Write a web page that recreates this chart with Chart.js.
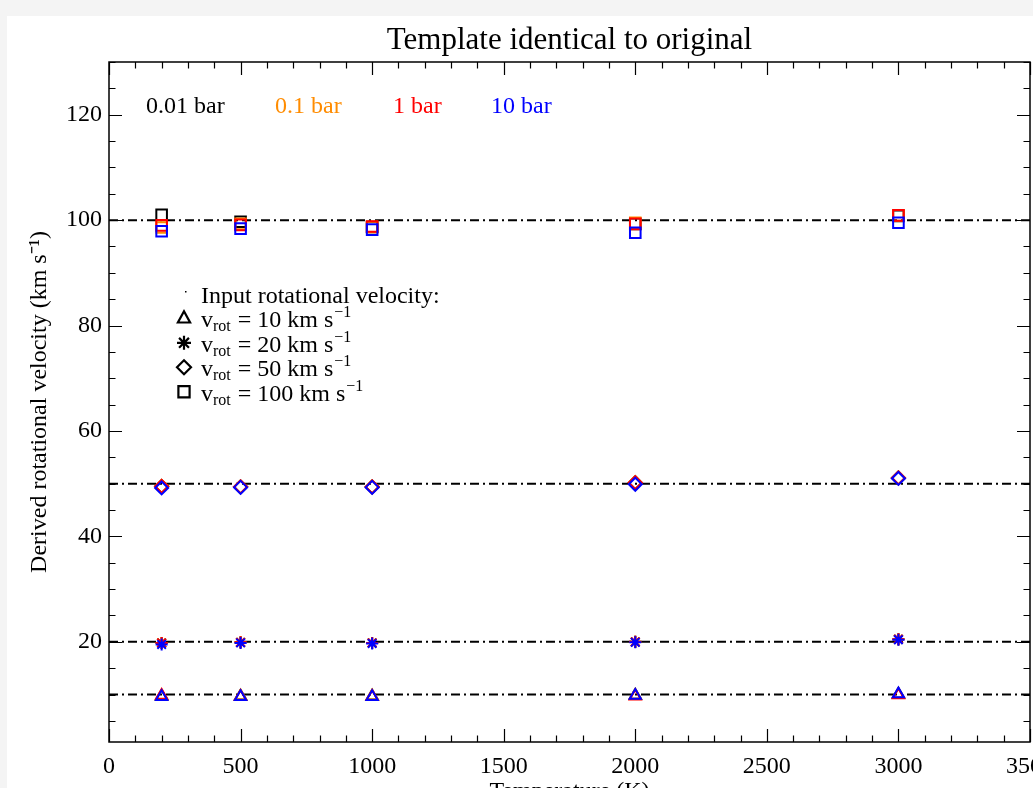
<!DOCTYPE html>
<html>
<head>
<meta charset="utf-8">
<title>Template identical to original</title>
<script src="https://cdn.jsdelivr.net/npm/chart.js@4.4.1/dist/chart.umd.min.js"></script>
<style>
  html, body { margin: 0; padding: 0; overflow: hidden; background: #f4f4f4; }
  #panel { position: absolute; left: 7px; top: 16px; background: #fff; }
  canvas { display: block; }
</style>
</head>
<body>
<div id="panel"><canvas id="vrotChart" width="1063" height="800"></canvas></div>
<script>
// temperatures of the model grid (K)
const temperatures = [200, 500, 1000, 2000, 3000];
// input rotational velocities (km/s)
const inputVelocities = [10, 20, 50, 100];
const pressureLabels = ['0.01 bar', '0.1 bar', '1 bar', '10 bar'];
const pressureColors = ['#000000', '#ff8c00', '#ff0000', '#0000ff'];
const xRange = [0, 3500];
const yRange = [1, 130];

// derived velocities, one row per pressure (0.01, 0.1, 1, 10 bar)
const derived10 = [
    [9.7, 9.7, 9.7, 9.8, 10.0],
    [9.7, 9.7, 9.7, 9.8, 10.0],
    [9.8, 9.6, 9.6, 9.7, 9.9],
    [9.6, 9.6, 9.6, 9.8, 10.1],
];
const derived20 = [
    [19.8, 19.9, 19.8, 20.0, 20.5],
    [19.8, 19.9, 19.8, 20.0, 20.5],
    [19.8, 19.9, 19.8, 20.0, 20.5],
    [19.5, 19.8, 19.7, 19.9, 20.4],
];
const derived50 = [
    [49.5, 49.4, 49.4, 50.2, 51.1],
    [49.5, 49.4, 49.4, 50.2, 51.1],
    [49.5, 49.4, 49.4, 50.2, 51.1],
    [49.2, 49.3, 49.3, 49.9, 51.0],
];
const derived100 = [
    [101.0, 99.7, 98.7, 99.3, 100.8],
    [98.6, 99.3, 98.7, 99.5, 100.9],
    [99.0, 99.1, 98.8, 99.3, 100.9],
    [97.9, 98.4, 98.2, 97.6, 99.5],
];

const derivedByVelocity = [derived10, derived20, derived50, derived100];
const markerStyles = ['triangle', 'star', 'rectRot', 'rect'];
const markerRadius = [6.5, 6, 6.5, 7.5];
const serif = '"Liberation Serif", "Times New Roman", serif';

const datasets = [];

// dash-dot reference lines at the input velocities
inputVelocities.forEach(v => {
    datasets.push({
        type: 'line',
        data: xRange.map(x => ({ x: x, y: v })),
        borderColor: '#000',
        borderWidth: 2,
        borderDash: [9, 4, 2, 4],
        pointRadius: 0,
        order: 10,
    });
});

// one scatter set per pressure and input velocity, blue drawn on top
derivedByVelocity.forEach((rows, vi) => {
    rows.forEach((vals, pi) => {
        datasets.push({
            type: 'scatter',
            label: pressureLabels[pi] + ' / ' + inputVelocities[vi],
            data: temperatures.map((t, i) => ({ x: t, y: vals[i] })),
            pointStyle: markerStyles[vi],
            pointRadius: markerRadius[vi],
            pointBorderWidth: 2,
            borderColor: pressureColors[pi],
            backgroundColor: 'rgba(0,0,0,0)',
            showLine: false,
            order: 5 - pi,
        });
    });
});

// inward tick marks on all four sides plus the frame
const frameTicks = {
    id: 'frameTicks',
    afterDraw(chart) {
        const { ctx, chartArea: a, scales: { x, y } } = chart;
        ctx.save();
        ctx.strokeStyle = '#000';
        ctx.lineWidth = 1.2;
        ctx.beginPath();
        x.ticks.forEach(t => {
            const px = Math.round(x.getPixelForValue(t.value)) + 0.5;
            const len = t.value % 500 === 0 ? 13 : 6.5;
            ctx.moveTo(px, a.bottom); ctx.lineTo(px, a.bottom - len);
            ctx.moveTo(px, a.top); ctx.lineTo(px, a.top + len);
        });
        y.ticks.forEach(t => {
            if (t.value % 5 !== 0) return;
            const py = Math.round(y.getPixelForValue(t.value)) + 0.5;
            const len = t.value % 20 === 0 ? 13 : 6.5;
            ctx.moveTo(a.left, py); ctx.lineTo(a.left + len, py);
            ctx.moveTo(a.right, py); ctx.lineTo(a.right - len, py);
        });
        ctx.stroke();
        ctx.lineWidth = 1.5;
        ctx.strokeRect(a.left, a.top, a.right - a.left, a.bottom - a.top);
        ctx.restore();
    }
};

function drawMarker(ctx, style, cx, cy, r) {
    ctx.beginPath();
    if (style === 'triangle') {
        ctx.moveTo(cx, cy - r);
        ctx.lineTo(cx + r * 0.87, cy + r * 0.6);
        ctx.lineTo(cx - r * 0.87, cy + r * 0.6);
        ctx.closePath();
    } else if (style === 'star') {
        for (let k = 0; k < 4; k++) {
            const ang = k * Math.PI / 4;
            ctx.moveTo(cx - Math.cos(ang) * r, cy - Math.sin(ang) * r);
            ctx.lineTo(cx + Math.cos(ang) * r, cy + Math.sin(ang) * r);
        }
    } else if (style === 'rectRot') {
        ctx.moveTo(cx, cy - r); ctx.lineTo(cx + r, cy);
        ctx.lineTo(cx, cy + r); ctx.lineTo(cx - r, cy);
        ctx.closePath();
    } else {
        ctx.rect(cx - r * 0.8, cy - r * 0.8, r * 1.6, r * 1.6);
    }
    ctx.stroke();
}

// pressure colour key and marker key inside the plot
const keyText = {
    id: 'keyText',
    afterDraw(chart) {
        const { ctx, chartArea: a } = chart;
        ctx.save();
        ctx.textBaseline = 'alphabetic';
        ctx.textAlign = 'left';
        ctx.font = '24px ' + serif;
        const keyX = [37, 166, 284, 382];
        pressureLabels.forEach((lab, i) => {
            ctx.fillStyle = pressureColors[i];
            ctx.fillText(lab, a.left + keyX[i], a.top + 50.5);
        });

        ctx.fillStyle = '#000';
        ctx.strokeStyle = '#000';
        ctx.lineWidth = 2.2;
        ctx.fillRect(a.left + 76, a.top + 229, 1.5, 1.5);
        ctx.fillText('Input rotational velocity:', a.left + 92, a.top + 241);

        inputVelocities.forEach((v, i) => {
            const base = a.top + 265.3 + i * 24.5;
            drawMarker(ctx, markerStyles[i], a.left + 75, base - 9, 7);
            let cx = a.left + 92;
            ctx.font = '24px ' + serif;
            ctx.fillText('v', cx, base);
            cx += ctx.measureText('v').width;
            ctx.font = '16px ' + serif;
            ctx.fillText('rot', cx, base + 4);
            cx += ctx.measureText('rot').width + 1;
            ctx.font = '24px ' + serif;
            const main = ' = ' + v + ' km s';
            ctx.fillText(main, cx, base);
            cx += ctx.measureText(main).width + 1;
            ctx.font = '16px ' + serif;
            ctx.fillText('\u22121', cx, base - 10);
        });
        ctx.restore();
    }
};

const ctx = document.getElementById('vrotChart').getContext('2d');

new Chart(ctx, {
    type: 'scatter',
    data: { datasets: datasets },
    options: {
        responsive: false,
        animation: false,
        events: [],
        layout: { padding: { left: 0, right: 40, top: 0, bottom: 0 } },
        plugins: {
            legend: { display: false },
            tooltip: { enabled: false },
            title: {
                display: true,
                fullSize: false,
                text: 'Template identical to original',
                color: '#000',
                font: { family: serif, size: 31, weight: 'normal', lineHeight: 1.2 },
                padding: { top: 6.2, bottom: 2.6 }
            }
        },
        scales: {
            x: {
                type: 'linear',
                min: xRange[0],
                max: xRange[1],
                grid: { display: false, drawTicks: false },
                border: { display: false },
                ticks: {
                    stepSize: 100,
                    autoSkip: false,
                    maxRotation: 0,
                    padding: 10,
                    color: '#000',
                    font: { family: serif, size: 24 },
                    callback: v => (v % 500 === 0 ? String(v) : '')
                },
                title: {
                    display: true,
                    text: 'Temperature (K)',
                    color: '#000',
                    font: { family: serif, size: 24 },
                    padding: { bottom: 10 }
                },
                afterFit: scale => { scale.height = 74; }
            },
            y: {
                type: 'linear',
                min: yRange[0],
                max: yRange[1],
                grid: { display: false, drawTicks: false },
                border: { display: false },
                ticks: {
                    stepSize: 5,
                    autoSkip: false,
                    padding: 7,
                    color: '#000',
                    font: { family: serif, size: 24 },
                    callback: v => (v % 20 === 0 ? String(v) : '')
                },
                title: {
                    display: true,
                    text: 'Derived rotational velocity (km s\u207B\u00B9)',
                    color: '#000',
                    font: { family: serif, size: 24 },
                    padding: { top: 18 }
                },
                afterFit: scale => { scale.width = 102; }
            }
        }
    },
    plugins: [frameTicks, keyText]
});
</script>
</body>
</html>
